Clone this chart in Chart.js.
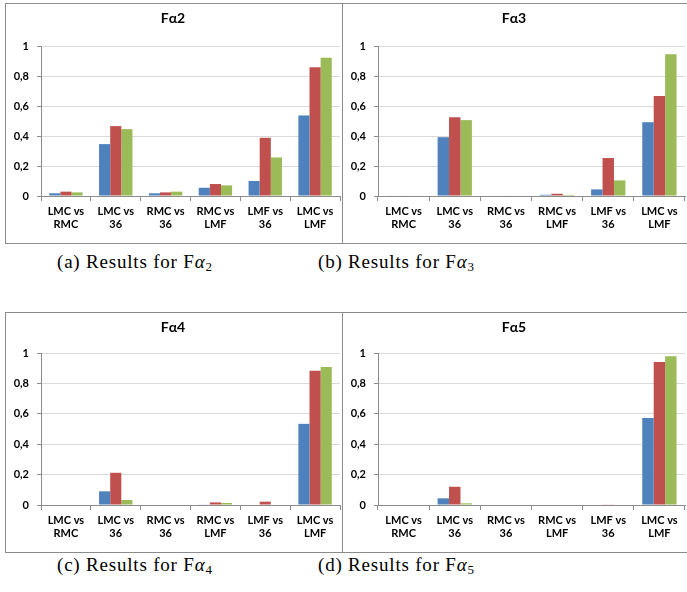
<!DOCTYPE html>
<html>
<head>
<meta charset="utf-8">
<script src="https://cdn.jsdelivr.net/npm/chart.js@4/dist/chart.umd.min.js"></script>
<style>
    body { margin: 0; background: #fff; width: 687px; height: 592px; overflow: hidden; position: relative; }
    .panel { position: absolute; border: 1px solid #8c8c8c; box-sizing: border-box; background: #fff; }
    .panel canvas { display: block; }
    .caption { position: absolute; font-family: 'Liberation Serif', serif; font-size: 19px; line-height: 22px; letter-spacing: 0.8px; color: #000; white-space: nowrap; }
    .caption i { font-style: italic; }
    .caption sub { font-size: 13px; vertical-align: -3px; line-height: 0; }
</style>
</head>
<body>
<div class="panel" style="left:5px; top:3px; width:338px; height:241px;"><canvas id="chartA" width="336" height="239"></canvas></div>
<div class="panel" style="left:342px; top:3px; width:350px; height:241px;"><canvas id="chartB" width="348" height="239"></canvas></div>
<div class="panel" style="left:5px; top:312px; width:338px; height:241px;"><canvas id="chartC" width="336" height="239"></canvas></div>
<div class="panel" style="left:342px; top:312px; width:350px; height:241px;"><canvas id="chartD" width="348" height="239"></canvas></div>

<div class="caption" style="left:57px; top:251px;">(a) Results for F<i>α</i><sub>2</sub></div>
<div class="caption" style="left:318px; top:251px;">(b) Results for F<i>α</i><sub>3</sub></div>
<div class="caption" style="left:57px; top:554px;">(c) Results for F<i>α</i><sub>4</sub></div>
<div class="caption" style="left:318px; top:554px;">(d) Results for F<i>α</i><sub>5</sub></div>

<script>
// categories shared by all four charts
const categories = [
    ['LMC vs', 'RMC'],
    ['LMC vs', '36'],
    ['RMC vs', '36'],
    ['RMC vs', 'LMF'],
    ['LMF vs', '36'],
    ['LMC vs', 'LMF'],
];

const yTicks = [0, 0.2, 0.4, 0.6, 0.8, 1];

// values (blue, red, green series)
const fa2Blue = [0.018, 0.346, 0.018, 0.055, 0.100, 0.537];
const fa2Red = [0.029, 0.466, 0.024, 0.080, 0.388, 0.858];
const fa2Green = [0.024, 0.446, 0.029, 0.071, 0.257, 0.922];

const fa3Blue = [0.003, 0.392, 0.003, 0.008, 0.044, 0.492];
const fa3Red = [0.003, 0.525, 0.003, 0.015, 0.253, 0.667];
const fa3Green = [0.003, 0.506, 0.003, 0.007, 0.104, 0.945];

const fa4Blue = [0, 0.090, 0, 0.004, 0, 0.534];
const fa4Red = [0, 0.212, 0, 0.017, 0.022, 0.884];
const fa4Green = [0, 0.033, 0, 0.013, 0, 0.908];

const fa5Blue = [0, 0.044, 0, 0, 0, 0.573];
const fa5Red = [0, 0.120, 0, 0, 0.004, 0.941];
const fa5Green = [0, 0.011, 0, 0, 0, 0.978];

const seriesColors = ['#4F81BD', '#C0504D', '#9BBB59'];
const labelFont = 'Lato, "Open Sans", sans-serif';

function makeChart(id, title, series, plotTop, plotBottom, rightPad) {
    const canvas = document.getElementById(id);
    const h = canvas.height;

    new Chart(canvas, {
        type: 'bar',
        data: {
            labels: categories,
            datasets: series.map((values, i) => ({
                label: 'Series ' + (i + 1),
                data: values,
                backgroundColor: seriesColors[i],
                borderWidth: 0,
                barPercentage: 1,
                categoryPercentage: 0.67,
            })),
        },
        options: {
            responsive: false,
            animation: false,
            layout: { padding: { top: 0, right: rightPad, bottom: 0, left: 0 } },
            plugins: {
                legend: { display: false },
                tooltip: { enabled: false },
                title: {
                    display: true,
                    text: title,
                    color: '#000',
                    font: { family: labelFont, size: 14, weight: 'bold' },
                    padding: { top: 6, bottom: plotTop - 6 - 16.8 },
                },
            },
            scales: {
                x: {
                    grid: {
                        drawOnChartArea: false,
                        drawTicks: true,
                        tickLength: 5,
                        color: '#8c8c8c',
                    },
                    border: { color: '#8c8c8c' },
                    ticks: {
                        color: '#000',
                        padding: 4,
                        maxRotation: 0,
                        autoSkip: false,
                        font: { family: labelFont, size: 11, weight: 'bold' },
                    },
                    afterFit: (s) => { s.height = h - plotBottom; },
                },
                y: {
                    min: 0,
                    max: 1,
                    afterBuildTicks: (s) => { s.ticks = yTicks.map((v) => ({ value: v })); },
                    grid: {
                        color: '#d9d9d9',
                        tickColor: '#8c8c8c',
                        tickLength: 4,
                    },
                    border: { color: '#8c8c8c' },
                    ticks: {
                        color: '#000',
                        padding: 8,
                        font: { family: labelFont, size: 11, weight: 'bold' },
                        callback: (v) => String(v).replace('.', ','),
                    },
                    afterFit: (s) => { s.width = 35; },
                },
            },
        },
    });
}

makeChart('chartA', 'Fα2', [fa2Blue, fa2Red, fa2Green], 42, 192, 2);
makeChart('chartB', 'Fα3', [fa3Blue, fa3Red, fa3Green], 42, 192, 6);
makeChart('chartC', 'Fα4', [fa4Blue, fa4Red, fa4Green], 40, 192, 2);
makeChart('chartD', 'Fα5', [fa5Blue, fa5Red, fa5Green], 40, 192, 6);
</script>
</body>
</html>
